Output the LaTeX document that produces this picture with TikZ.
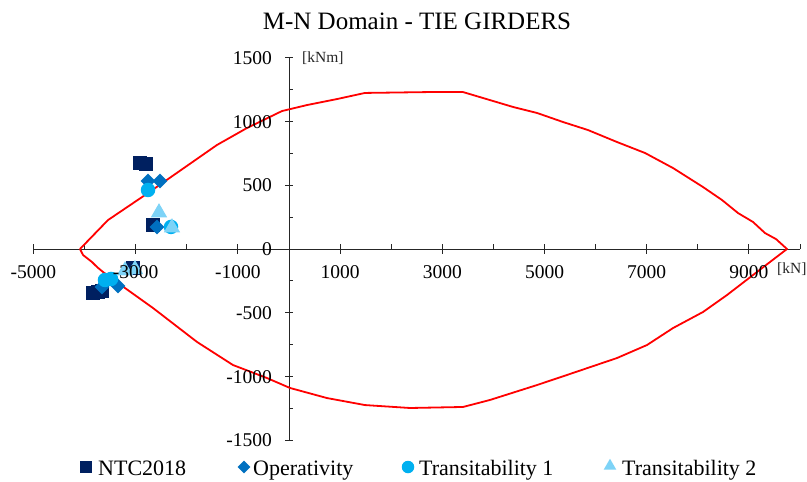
\documentclass[tikz,border=0pt]{standalone}
\usepackage{fontspec}
\setmainfont{Liberation Serif}
\usetikzlibrary{shapes.geometric}
\definecolor{ntc}{HTML}{002060}
\definecolor{oper}{HTML}{0070C0}
\definecolor{trone}{HTML}{00B0F0}
\definecolor{trtwo}{HTML}{7DD3F7}
\definecolor{mnred}{HTML}{FF0000}
\definecolor{axisgray}{HTML}{262626}

\begin{document}
\begin{tikzpicture}[x=1pt,y=-1pt,
  ntcmark/.style={rectangle, fill=ntc, inner sep=0pt, minimum size=14pt},
  opermark/.style={diamond, fill=oper, inner sep=0pt, minimum size=15pt},
  tronemark/.style={circle, fill=trone, inner sep=0pt, minimum size=14.5pt},
  trtwomark/.style={regular polygon, regular polygon sides=3, fill=trtwo, inner sep=0pt, minimum size=19pt},
  ticklab/.style={font=\fontsize{19.5}{20}\selectfont, inner sep=0pt},
  unitlab/.style={font=\fontsize{15.5}{16}\selectfont, inner sep=0pt, text=black!85},
  legtext/.style={font=\fontsize{22}{24}\selectfont, anchor=base west, inner sep=0pt},
  axisline/.style={line width=1pt, draw=axisgray},
  mncurve/.style={draw=mnred, line width=1.8pt, line join=round}
]
\useasboundingbox (0,0) rectangle (807,482);
\fill[white] (0,0) rectangle (807,482);

% title
\node[font=\fontsize{25}{28}\selectfont, anchor=base, inner sep=0pt] (title) at (417,29) {M-N Domain - TIE GIRDERS};

% plot area in data units: N [kN] horizontally, M [kNm] vertically
\begin{scope}[shift={(289,249)}, x=0.0511pt, y=0.1275pt]
  % axes
  \draw[axisline] (-5000,0) -- (10000,0);
  \draw[axisline] (0,-1500) -- (0,1500);
  % x ticks: crossing every 2000, inner ones in between
  \foreach \n in {-5000,-3000,...,9000}
    \draw[axisline] (\n,0) ++(0,5pt) -- ++(0,-10pt);
  \foreach \n in {-4000,-2000,...,10000}
    \draw[axisline] (\n,0) -- ++(0,5pt);
  % y ticks: crossing every 500, inner ones in between
  \foreach \m in {-1500,-1000,...,1500}
    \draw[axisline] (0,\m) ++(-4pt,0) -- ++(8pt,0);
  \foreach \m in {-1250,-750,...,1250}
    \draw[axisline] (0,\m) -- ++(4pt,0);

  % M-N interaction domain
  \draw[mncurve] plot coordinates {
    (-4090,0) (-3542,227) (-2759,439) (-1409,816) (-822,949) (-137,1082)
    (352,1129) (939,1176) (1487,1224) (2759,1231) (3405,1231) (4384,1114)
    (4853,1067) (5362,996) (5851,933) (6419,839) (6967,753) (7515,635)
    (8102,486) (8474,384) (8787,282) (9080,212) (9315,125) (9530,78)
    (9745,0)
    (9080,-204) (8571,-361) (8102,-494) (7515,-620) (7006,-753) (6419,-855)
    (5440,-988) (4853,-1067) (3933,-1184) (3405,-1239) (2368,-1247)
    (1487,-1224) (744,-1169) (20,-1090) (-431,-1012) (-1096,-910)
    (-1800,-729) (-2661,-463) (-3209,-306) (-3640,-180) (-3757,-141)
    (-3855,-102) (-4031,-47) (-4090,0)
  };

  % load combinations
  \foreach \n/\m [count=\i] in {-2916/675, -2798/667, -2661/188, -3053/-149, -3836/-345, -3738/-337, -3660/-330}
    \node[ntcmark] (ntc\i) at (\n,\m) {};
  \foreach \n/\m [count=\i] in {-2759/533, -2524/533, -2583/173, -3659/-298, -3346/-290}
    \node[opermark] (op\i) at (\n,\m) {};
  \foreach \n/\m [count=\i] in {-2759/463, -2309/173, -3601/-243, -3483/-235}
    \node[tronemark] (tra\i) at (\n,\m) {};
  \foreach \n/\m [count=\i] in {-2544/285, -2290/167, -3209/-170, -3014/-160}
    \node[trtwomark] (trb\i) at (\n,\m) {};

  % tick labels, set over the markers
  \foreach \n in {-5000,-3000,...,9000}
    \node[ticklab, anchor=base] (xl\n) at (\n,0) [yshift=-29pt] {\n};
  \foreach \m in {-1500,-1000,...,1500}
    \node[ticklab, anchor=base east] (yl\m) at (0,\m) [xshift=-17pt, yshift=-6.6pt] {\m};

  % units
  \node[unitlab, anchor=west] (munit) at (0,1500) [xshift=13pt] {[kNm]};
  \node[unitlab, anchor=west] (nunit) at (9745,0) [xshift=-10pt, yshift=-20pt] {[kN]};
\end{scope}

% legend
\node[ntcmark, minimum size=11.5pt] (legntc) at (86,467) {};
\node[legtext] (legntct) at (98,475) {NTC2018};
\node[opermark, minimum size=13pt] (legop) at (244,467) {};
\node[legtext] (legopt) at (253,475) {Operativity};
\node[tronemark, minimum size=12.5pt] (legtra) at (408,467) {};
\node[legtext] (legtrat) at (419,475) {Transitability 1};
\node[trtwomark, minimum size=14.5pt] (legtrb) at (610,466) {};
\node[legtext] (legtrbt) at (622,475) {Transitability 2};
\end{tikzpicture}
\end{document}
